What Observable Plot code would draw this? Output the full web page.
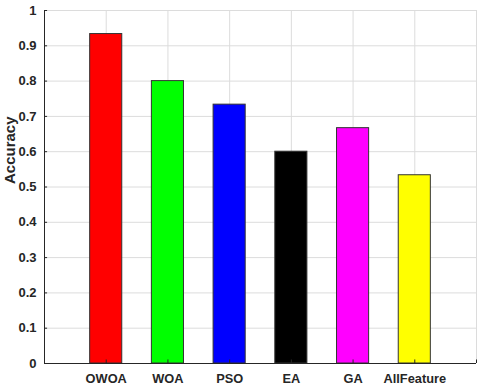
<!DOCTYPE html>
<html>
<head>
<meta charset="utf-8">
<script src="https://cdn.jsdelivr.net/npm/d3@7"></script>
<script src="https://cdn.jsdelivr.net/npm/@observablehq/plot@0.6"></script>
<style>
  html, body { margin: 0; padding: 0; background: #fff; }
  svg { font-family: Arial, "Liberation Sans", sans-serif; }
</style>
</head>
<body>
<div id="chart"></div>
<script>
const categories = ["OWOA", "WOA", "PSO", "EA", "GA", "AllFeature"];
const accuracy = [0.9333, 0.8, 0.7333, 0.6, 0.6667, 0.5333];
const barColors = ["#ff0000", "#00ff00", "#0000ff", "#000000", "#ff00ff", "#ffff00"];
const yTicks = [0, 0.1, 0.2, 0.3, 0.4, 0.5, 0.6, 0.7, 0.8, 0.9, 1];

const half = 0.26;
const rows = categories.map((c, i) => ({
  name: c, pos: i + 1, value: accuracy[i], color: barColors[i]
}));
const xPositions = rows.map(d => d.pos);
const xGrid = [0, ...xPositions, categories.length + 1];

const ink = "#262626";

const chart = Plot.plot({
  width: 480,
  height: 385,
  marginLeft: 44,
  marginRight: 4,
  marginTop: 10,
  marginBottom: 22,
  style: { fontFamily: "Arial, 'Liberation Sans', sans-serif", color: ink, background: "#fff" },
  x: { domain: [0, categories.length + 1], axis: null },
  y: { domain: [0, 1], axis: null },
  marks: [
    Plot.ruleX(xGrid, { stroke: "#dcdcdc", strokeWidth: 1 }),
    Plot.ruleY(yTicks, { stroke: "#dcdcdc", strokeWidth: 1 }),
    Plot.rect(rows, {
      x1: d => d.pos - half, x2: d => d.pos + half,
      y1: 0, y2: "value",
      fill: "color", stroke: "#333333", strokeWidth: 1
    }),
    // axis lines
    Plot.ruleX([0], { stroke: ink, strokeWidth: 1 }),
    Plot.ruleY([0], { stroke: ink, strokeWidth: 1 }),
    // inward ticks
    Plot.ruleY(yTicks, { x1: 0, x2: 0.05, stroke: ink }),
    Plot.ruleX([...xPositions, categories.length + 1], { y1: 0, y2: 0.01, stroke: ink }),
    // y tick labels
    Plot.text(yTicks, {
      x: 0, y: d => d, text: d => String(d), textAnchor: "end", dx: -8,
      fontSize: 13, fontWeight: "bold", fill: ink
    }),
    // x tick labels
    Plot.text(rows, {
      x: "pos", y: 0, text: "name", dy: 15, lineAnchor: "middle",
      fontSize: 12.8, fontWeight: "bold", fill: ink
    }),
    // y label
    Plot.text(["Accuracy"], {
      frameAnchor: "left", dx: -34, dy: -3, rotate: -90, text: d => d,
      fontSize: 15, fontWeight: "bold", fill: ink
    })
  ]
});
document.getElementById("chart").appendChild(chart);
</script>
</body>
</html>
